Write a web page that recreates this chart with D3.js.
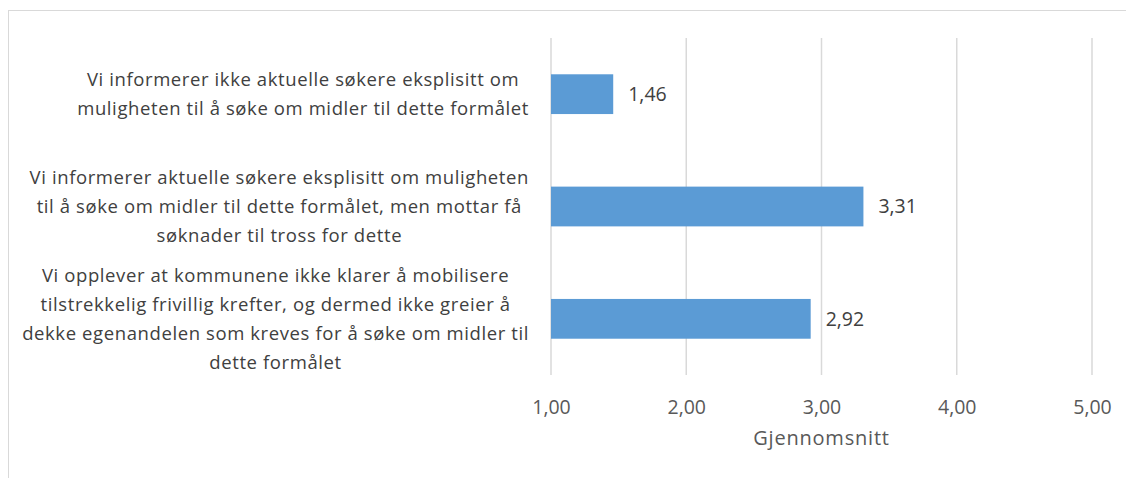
<!DOCTYPE html>
<html>
<head>
<meta charset="utf-8">
<script src="https://cdn.jsdelivr.net/npm/d3@7"></script>
<style>
  body { margin: 0; background: #fff; }
  svg text { font-family: 'Open Sans', 'Noto Sans', sans-serif; }
</style>
</head>
<body>
<svg width="1126" height="478"></svg>
<script>
// Category labels, already split into lines as in the original chart
var categories = [
    ['Vi informerer ikke aktuelle søkere eksplisitt om',
     'muligheten til å søke om midler til dette formålet'],
    ['Vi informerer aktuelle søkere eksplisitt om muligheten',
     'til å søke om midler til dette formålet, men mottar få',
     'søknader til tross for dette'],
    ['Vi opplever at kommunene ikke klarer å mobilisere',
     'tilstrekkelig frivillig krefter, og dermed ikke greier å',
     'dekke egenandelen som kreves for å søke om midler til',
     'dette formålet']
];
var values = [1.46, 3.31, 2.92];
var xTicks = [1, 2, 3, 4, 5];
var xTitle = 'Gjennomsnitt';

var svg = d3.select('svg');

// outer chart border (runs off the right and bottom edge)
svg.append('rect')
    .attr('x', 8.5).attr('y', 10.5)
    .attr('width', 1200).attr('height', 600)
    .attr('fill', 'none')
    .attr('stroke', '#d9d9d9');

var plot = {l: 551, r: 1092, t: 38, b: 375};

var xScale = d3.scaleLinear()
    .domain([1, 5])
    .range([plot.l, plot.r]);

var yScale = d3.scaleBand()
    .domain(d3.range(values.length))
    .range([plot.t, plot.b])
    .paddingInner(0.646)
    .paddingOuter(0.323);

// vertical gridlines
svg.append('g').selectAll('line')
    .data(xTicks)
    .enter().append('line')
    .attr('x1', function(d) { return xScale(d); })
    .attr('x2', function(d) { return xScale(d); })
    .attr('y1', plot.t)
    .attr('y2', plot.b)
    .attr('stroke', '#d9d9d9')
    .attr('stroke-width', 1.5);

// x axis tick labels
var fmt = function(d) { return d3.format('.2f')(d).replace('.', ','); };
var xAxis = d3.axisBottom(xScale)
    .tickValues(xTicks)
    .tickFormat(fmt)
    .tickSize(0)
    .tickPadding(0);
var xAxisG = svg.append('g')
    .attr('transform', 'translate(0,' + 414 + ')')
    .call(xAxis);
xAxisG.select('.domain').remove();
xAxisG.selectAll('text')
    .attr('dy', 0)
    .attr('fill', '#595959')
    .style('font-size', '19.5px');

svg.append('text')
    .attr('x', (plot.l + plot.r) / 2)
    .attr('y', 445)
    .attr('text-anchor', 'middle')
    .attr('fill', '#595959')
    .style('font-size', '20px')
    .style('letter-spacing', '0.8px')
    .text(xTitle);

// bars
var barTop = function(i) { return yScale(i); };
svg.append('g').selectAll('rect')
    .data(values)
    .enter().append('rect')
    .attr('x', xScale(1))
    .attr('y', function(d, i) { return barTop(i); })
    .attr('width', function(d) { return xScale(d) - xScale(1); })
    .attr('height', yScale.bandwidth())
    .attr('fill', '#5b9bd5');

// value labels
svg.append('g').selectAll('text')
    .data(values)
    .enter().append('text')
    .attr('x', function(d) { return xScale(d) + 15; })
    .attr('y', function(d, i) { return barTop(i) + yScale.bandwidth() / 2; })
    .attr('dy', '0.35em')
    .attr('fill', '#404040')
    .style('font-size', '19.5px')
    .text(fmt);

// category labels: block right aligned to axis, each line centered in block
var lineH = 29;
var labelRight = 529;
categories.forEach(function(lines, i) {
    var cy = barTop(i) + yScale.bandwidth() / 2;
    var g = svg.append('g');
    var texts = g.selectAll('text')
        .data(lines)
        .enter().append('text')
        .attr('y', function(d, j) { return cy + (j - (lines.length - 1) / 2) * lineH; })
        .attr('dy', '0.35em')
        .attr('text-anchor', 'middle')
        .attr('fill', '#404040')
        .style('font-size', '18.5px')
        .style('letter-spacing', '0.6px')
        .text(function(d) { return d; });
    var maxW = d3.max(texts.nodes(), function(n) { return n.getComputedTextLength(); });
    texts.attr('x', labelRight - maxW / 2);
});
</script>
</body>
</html>
